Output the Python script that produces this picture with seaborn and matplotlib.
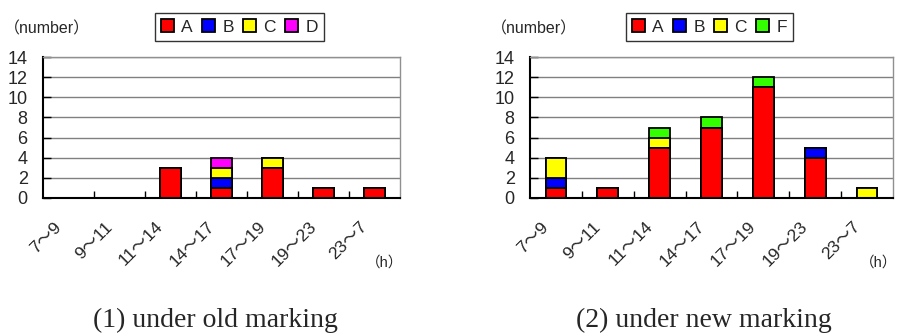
import matplotlib
matplotlib.use("Agg")
import matplotlib.pyplot as plt
from matplotlib.patches import Patch
from matplotlib.ticker import FixedLocator
from matplotlib.transforms import ScaledTranslation
import numpy as np
import pandas as pd
import seaborn as sns

sns.set_style("white")
plt.rcParams['font.family'] = ['Liberation Sans', 'Noto Sans CJK JP']

# ---- data ----
hours = ["7～9", "9～11", "11～14", "14～17", "17～19", "19～23", "23～7"]

old_labels = ["A", "B", "C", "D"]
old_A = [0, 0, 3, 1, 3, 1, 1]
old_B = [0, 0, 0, 1, 0, 0, 0]
old_C = [0, 0, 0, 1, 1, 0, 0]
old_D = [0, 0, 0, 1, 0, 0, 0]

new_labels = ["A", "B", "C", "F"]
new_A = [1, 1, 5, 7, 11, 4, 0]
new_B = [1, 0, 0, 0, 0, 1, 0]
new_C = [2, 0, 1, 0, 0, 0, 1]
new_F = [0, 0, 1, 1, 1, 0, 0]

old_colors = ["#ff0000", "#0000ff", "#ffff00", "#ff00ff"]
new_colors = ["#ff0000", "#0000ff", "#ffff00", "#33ff00"]

captions = ["(1) under old marking", "(2) under new marking"]


def stacked(ax, series, labels, colors):
    # draw cumulative totals from the top layer down so each layer shows
    cum = np.cumsum(np.array(series), axis=0)
    for i in range(len(series) - 1, -1, -1):
        d = pd.DataFrame({"hour": hours, "n": cum[i]})
        sns.barplot(data=d, x="hour", y="n", color=colors[i], saturation=1,
                    width=0.4, edgecolor="black", linewidth=1.3, ax=ax,
                    order=hours)
    ax.set_xlim(-0.5, len(hours) - 0.5)
    ax.set_ylim(0, 14)
    ax.set_yticks(range(0, 15, 2))
    ax.yaxis.grid(True, color="#808080", linewidth=1)
    ax.set_axisbelow(True)
    ax.set_xlabel("")
    ax.set_ylabel("")
    for s in ["top", "right"]:
        ax.spines[s].set_color("#909090")
        ax.spines[s].set_linewidth(1)
    for s in ["left", "bottom"]:
        ax.spines[s].set_color("black")
        ax.spines[s].set_linewidth(1.5)
    ax.xaxis.set_minor_locator(FixedLocator(np.arange(0.5, len(hours) - 0.5, 1)))
    ax.tick_params(axis="x", which="major", length=0, pad=19)
    ax.tick_params(axis="x", which="minor", direction="in", length=5,
                   width=1, color="black", bottom=True)
    ax.tick_params(axis="y", direction="in", length=6, width=1, color="black",
                   left=True, labelsize=13, pad=11)
    shift = ScaledTranslation(-7 / 72, 0, ax.figure.dpi_scale_trans)
    for t in ax.get_xticklabels():
        t.set_rotation(45)
        t.set_ha("right")
        t.set_va("center")
        t.set_rotation_mode("anchor")
        t.set_fontsize(12.5)
        t.set_transform(t.get_transform() + shift)
    handles = [Patch(facecolor=c, edgecolor="black", linewidth=1.3) for c in colors]
    return handles


fig = plt.figure(figsize=(9.01, 3.36), dpi=100)
ax1 = fig.add_axes([43 / 901, 138 / 336, 357 / 901, 141 / 336])
ax2 = fig.add_axes([530 / 901, 138 / 336, 363 / 901, 141 / 336])

h1 = stacked(ax1, [old_A, old_B, old_C, old_D], old_labels, old_colors)
h2 = stacked(ax2, [new_A, new_B, new_C, new_F], new_labels, new_colors)

for ax, h, lab, cx in [(ax1, h1, old_labels, 239.5 / 901), (ax2, h2, new_labels, 709.5 / 901)]:
    leg = ax.legend(h, lab, loc="center", bbox_to_anchor=(cx, 1 - 27 / 336),
                    bbox_transform=fig.transFigure, ncol=4, frameon=True,
                    fancybox=False, edgecolor="black", fontsize=12.5,
                    handlelength=0.75, handleheight=0.75, handletextpad=0.4,
                    columnspacing=0.55, borderpad=0.35)
    leg.get_frame().set_linewidth(1)

fig.text(4 / 901, 1 - 29 / 336, "（number）", fontsize=11.5, va="center", ha="left")
fig.text(491 / 901, 1 - 29 / 336, "（number）", fontsize=11.5, va="center", ha="left")
fig.text(366 / 901, 1 - 263 / 336, "（h）", fontsize=10.5, va="center", ha="left")
fig.text(860 / 901, 1 - 263 / 336, "（h）", fontsize=10.5, va="center", ha="left")

fig.text(215.5 / 901, 1 - 320 / 336, captions[0], fontsize=20,
         family="Liberation Serif", ha="center", va="center")
fig.text(704 / 901, 1 - 320 / 336, captions[1], fontsize=20,
         family="Liberation Serif", ha="center", va="center")

fig.savefig("out.png", dpi=100)
